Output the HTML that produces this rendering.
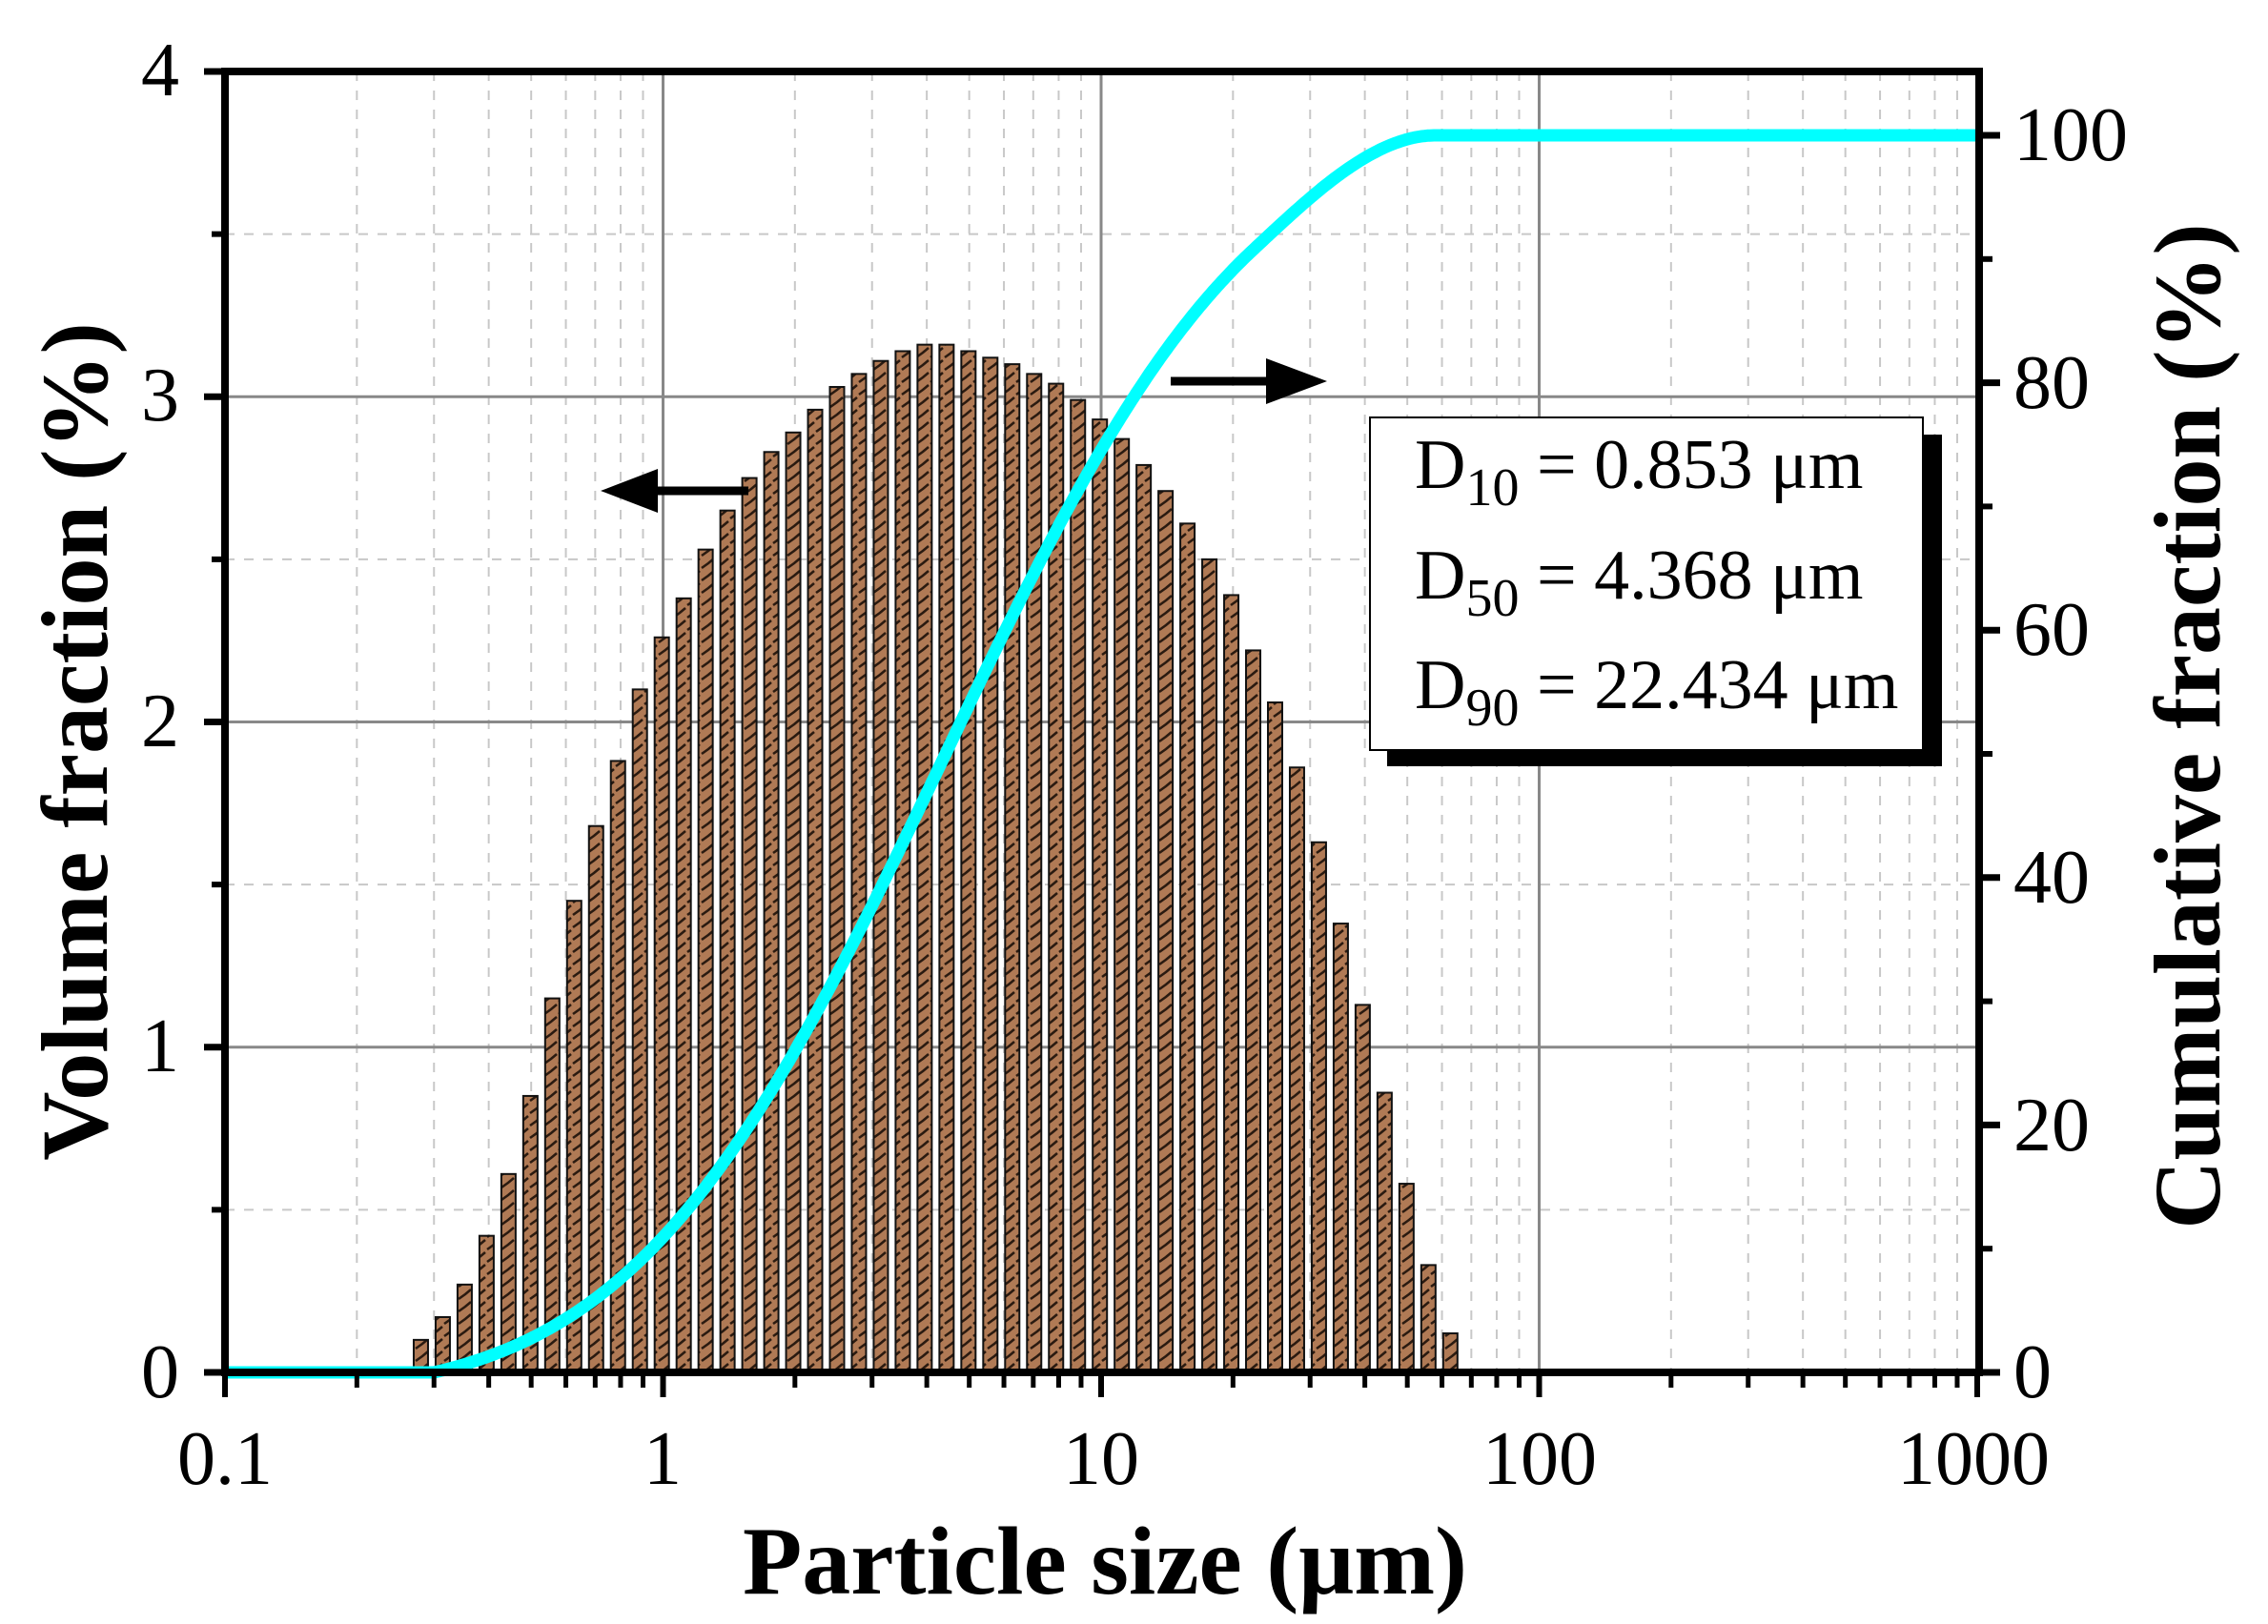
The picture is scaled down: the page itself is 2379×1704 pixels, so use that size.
<!DOCTYPE html>
<html><head><meta charset="utf-8"><style>
html,body{margin:0;padding:0;background:#fff;}
svg{display:block;}
text{font-family:"Liberation Serif",serif;fill:#000;}
</style></head><body>
<svg id="s" width="2379" height="1704" viewBox="0 0 2379 1704" xmlns="http://www.w3.org/2000/svg">
<defs>
<pattern id="h" patternUnits="userSpaceOnUse" width="15" height="13">
<rect width="15" height="13" fill="#b07a55"/>
<path d="M1 11 L8 6 L14 1" stroke="#2a1a10" stroke-width="2.6" fill="none"/>
</pattern>
</defs>
<g id="grid"></g>
<g id="bars"></g>
<path id="cum" fill="none" stroke="#00ffff" stroke-width="13" stroke-linejoin="round"/>
<!-- arrows -->
<line x1="680" y1="515" x2="785" y2="515" stroke="#000" stroke-width="9"/>
<polygon points="630,515 690,492 690,538" fill="#000"/>
<line x1="1228" y1="400" x2="1340" y2="400" stroke="#000" stroke-width="9"/>
<polygon points="1392,400 1328,376 1328,424" fill="#000"/>
<!-- legend -->
<rect x="1455" y="456" width="582" height="348" fill="#000"/>
<rect x="1437" y="438" width="580" height="349" fill="#fff" stroke="#000" stroke-width="2"/>
<text x="1484" y="512" font-size="74">D<tspan font-size="56" dy="18">10</tspan><tspan dy="-18"> = 0.853 μm</tspan></text>
<text x="1484" y="628" font-size="74">D<tspan font-size="56" dy="18">50</tspan><tspan dy="-18"> = 4.368 μm</tspan></text>
<text x="1484" y="743" font-size="74">D<tspan font-size="56" dy="18">90</tspan><tspan dy="-18"> = 22.434 μm</tspan></text>
<g id="axes"></g>
<!-- labels -->
<g font-size="80" text-anchor="end">
<text x="188" y="100">4</text><text x="188" y="441">3</text><text x="188" y="783">2</text><text x="188" y="1124">1</text><text x="188" y="1466">0</text>
</g>
<g font-size="80" text-anchor="start">
<text x="2112" y="168">100</text><text x="2112" y="428">80</text><text x="2112" y="687">60</text><text x="2112" y="947">40</text><text x="2112" y="1207">20</text><text x="2112" y="1466">0</text>
</g>
<g font-size="80" text-anchor="middle">
<text x="236" y="1557">0.1</text><text x="695" y="1557">1</text><text x="1155" y="1557">10</text><text x="1615" y="1557">100</text><text x="2070" y="1557">1000</text>
</g>
<text x="1159" y="1672" font-size="102" font-weight="bold" text-anchor="middle">Particle size (μm)</text>
<text transform="translate(112,778) rotate(-90)" font-size="100" font-weight="bold" text-anchor="middle">Volume fraction (%)</text>
<text transform="translate(2328,762) rotate(-90)" font-size="100" font-weight="bold" text-anchor="middle">Cumulative fraction (%)</text>
</svg>
<script>
var NS="http://www.w3.org/2000/svg";
var X0=236,DEC=459.5,Y0=1440,U=341.25,L=236,R=2076,T=75;
function xs(v){return X0+DEC*Math.log10(v/0.1);}
function ys(v){return Y0-U*v;}
function yr(p){return Y0-p*12.98;}
function el(g,tag,a){var e=document.createElementNS(NS,tag);for(var k in a)e.setAttribute(k,a[k]);document.getElementById(g).appendChild(e);return e;}
for(var d=0.1;d<1000;d*=10){for(var m=2;m<10;m++){var x=xs(d*m);el("grid","line",{x1:x,y1:T,x2:x,y2:Y0,stroke:"#c8c8c8","stroke-width":2,"stroke-dasharray":"10 10"});}}
for(var v=0.5;v<4;v+=1){el("grid","line",{x1:L,y1:ys(v),x2:R,y2:ys(v),stroke:"#c8c8c8","stroke-width":2,"stroke-dasharray":"10 10"});}
[1,10,100].forEach(function(d){var x=xs(d);el("grid","line",{x1:x,y1:T,x2:x,y2:Y0,stroke:"#888","stroke-width":3});});
[1,2,3].forEach(function(v){el("grid","line",{x1:L,y1:ys(v),x2:R,y2:ys(v),stroke:"#888","stroke-width":3});});
var h=[0.1,0.17,0.27,0.42,0.61,0.85,1.15,1.45,1.68,1.88,2.1,2.26,2.38,2.53,2.65,2.75,2.83,2.89,2.96,3.03,3.07,3.11,3.14,3.16,3.16,3.14,3.12,3.1,3.07,3.04,2.99,2.93,2.87,2.79,2.71,2.61,2.5,2.39,2.22,2.06,1.86,1.63,1.38,1.13,0.86,0.58,0.33,0.12];
for(var i=0;i<h.length;i++){var c=xs(0.28*Math.pow(10,i/20));el("bars","rect",{x:c-7.5,y:ys(h[i]),width:15,height:U*h[i],fill:"url(#h)",stroke:"#111","stroke-width":2});}
function erf(x){var t=1/(1+0.3275911*Math.abs(x));var y=1-(((((1.061405429*t-1.453152027)*t)+1.421413741)*t-0.284496736)*t+0.254829592)*t*Math.exp(-x*x);return x>=0?y:-y;}
function Phi(z){return 0.5*(1+erf(z/Math.SQRT2));}
var mu=Math.log(4.368),sg=1.277,x0=0.3,x1=80;
var A0=Phi((Math.log(x0)-mu)/sg),B0=Phi((Math.log(x1)-mu)/sg);
function F0(x){if(x<=x0)return 0;return 100*(Phi((Math.log(x)-mu)/sg)-A0)/(B0-A0);}
var la=Math.log10(22),l1=Math.log10(58);
var fa=F0(22),sa=(F0(Math.pow(10,la+1e-4))-F0(Math.pow(10,la-1e-4)))/2e-4;
function F(x){var lx=Math.log10(x);if(lx<la)return F0(x);if(lx>=l1)return 100;var dl=l1-la,t=(lx-la)/dl;
 var h00=2*t*t*t-3*t*t+1,h10=t*t*t-2*t*t+t,h01=-2*t*t*t+3*t*t;return h00*fa+h10*dl*sa+h01*100;}
var dd="";for(var k=0;k<=800;k++){var lx=-1+4*k/800;var xv=Math.pow(10,lx);dd+=(k?"L":"M")+xs(xv).toFixed(1)+" "+yr(Math.min(100,F(xv))).toFixed(1);}
document.getElementById("cum").setAttribute("d",dd);
var A="axes";
el(A,"rect",{x:L,y:T,width:R-L,height:Y0-T,fill:"none",stroke:"#000","stroke-width":8});
[0,1,2,3,4].forEach(function(v){el(A,"line",{x1:L-22,y1:ys(v),x2:L,y2:ys(v),stroke:"#000","stroke-width":7});});
[0.5,1.5,2.5,3.5].forEach(function(v){el(A,"line",{x1:L-14,y1:ys(v),x2:L,y2:ys(v),stroke:"#000","stroke-width":6});});
for(var p=0;p<=100;p+=10){el(A,"line",{x1:R,y1:yr(p),x2:R+(p%20?14:22),y2:yr(p),stroke:"#000","stroke-width":p%20?6:7});}
for(var d2=0.1;d2<=1000;d2*=10){el(A,"line",{x1:xs(d2),y1:Y0,x2:xs(d2),y2:Y0+26,stroke:"#000","stroke-width":6});if(d2<999)for(var m2=2;m2<10;m2++){var xx=xs(d2*m2);el(A,"line",{x1:xx,y1:Y0,x2:xx,y2:Y0+16,stroke:"#000","stroke-width":5});}}
</script>
</body></html>
